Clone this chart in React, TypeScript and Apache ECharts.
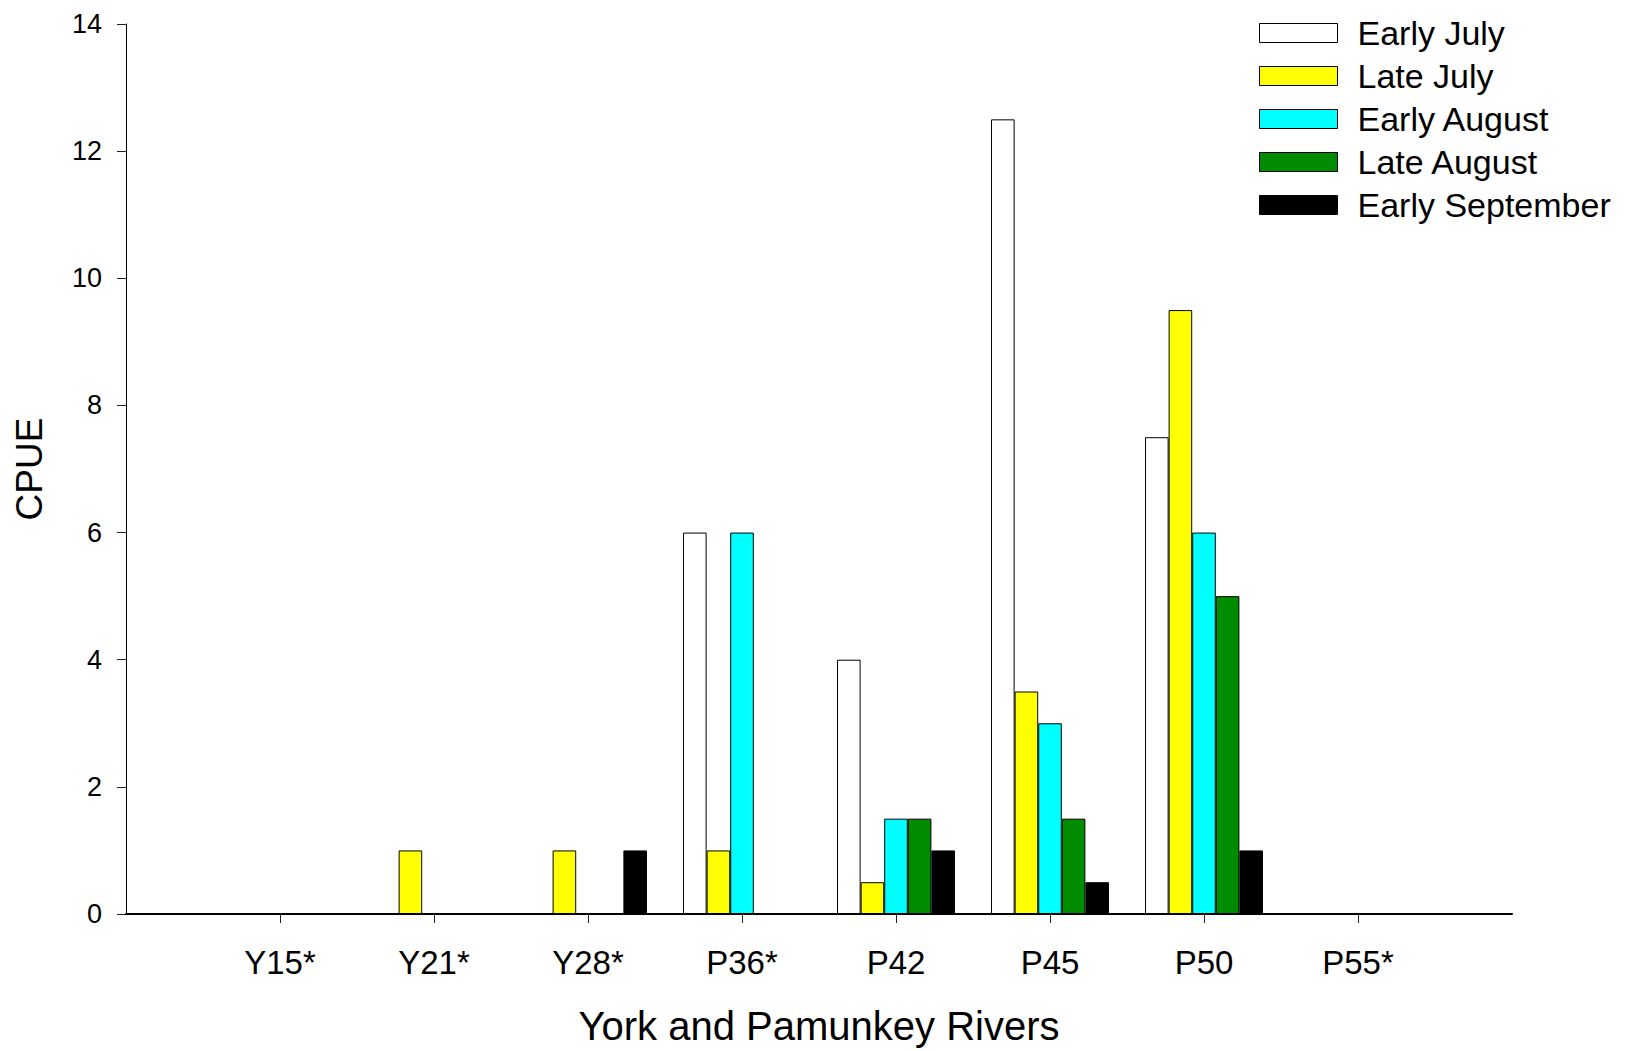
import React, { useEffect, useRef } from "react";
import * as echarts from "echarts";

// Sampling stations along the York and Pamunkey rivers
const stations = ["Y15*", "Y21*", "Y28*", "P36*", "P42", "P45", "P50", "P55*"];

// CPUE per station for each sampling period
const earlyJuly = [0, 0, 0, 6, 4, 12.5, 7.5, 0];
const lateJuly = [0, 1, 1, 1, 0.5, 3.5, 9.5, 0];
const earlyAugust = [0, 0, 0, 6, 1.5, 3, 6, 0];
const lateAugust = [0, 0, 0, 0, 1.5, 1.5, 5, 0];
const earlySeptember = [0, 0, 1, 0, 1, 0.5, 1, 0];

const periodNames = ["Early July", "Late July", "Early August", "Late August", "Early September"];
const periodValues = [earlyJuly, lateJuly, earlyAugust, lateAugust, earlySeptember];
const periodColors = ["#ffffff", "#ffff00", "#00ffff", "#008c00", "#000000"];

const yTicks = { min: 0, max: 14, interval: 2 };

const FONT = "'Liberation Sans', Arial, sans-serif";

export default function App() {
  const ref = useRef<HTMLDivElement>(null);

  useEffect(() => {
    if (!ref.current) return;
    const chart = echarts.init(ref.current, null, { renderer: "svg" });

    // Pad the axis with an empty slot at each end so the stations sit on ticks 1..8
    const axisCats = ["", ...stations, ""];

    const series = periodNames.map((name, i) => ({
      name,
      type: "bar" as const,
      data: [null, ...periodValues[i], null],
      barGap: "0%",
      barCategoryGap: "23.4%",
      itemStyle: {
        color: periodColors[i],
        borderColor: "#000000",
        borderWidth: 1,
      },
      emphasis: { disabled: true },
    }));

    chart.setOption({
      animation: false,
      backgroundColor: "#ffffff",
      textStyle: { fontFamily: FONT },
      grid: { left: 126, right: 113, top: 24, bottom: 136, containLabel: false },
      legend: {
        orient: "vertical",
        left: 1259,
        top: 16,
        padding: 0,
        icon: "rect",
        itemWidth: 78,
        itemHeight: 19,
        itemGap: 9,
        selectedMode: false,
        itemStyle: { borderColor: "#000000", borderWidth: 1 },
        textStyle: {
          fontFamily: FONT,
          fontSize: 34,
          lineHeight: 34,
          color: "#000000",
          padding: [0, 0, 0, 15],
        },
        data: periodNames,
      },
      xAxis: {
        type: "category",
        data: axisCats,
        boundaryGap: false,
        name: "York and Pamunkey Rivers",
        nameLocation: "middle",
        nameGap: 92,
        nameTextStyle: { fontFamily: FONT, fontSize: 40, color: "#000000" },
        axisLine: { lineStyle: { color: "#000000", width: 2 } },
        axisTick: {
          length: 9,
          interval: (index: number) => index > 0 && index < axisCats.length - 1,
          lineStyle: { color: "#222222", width: 1 },
        },
        axisLabel: {
          interval: 0,
          margin: 32,
          fontFamily: FONT,
          fontSize: 33,
          color: "#000000",
        },
        splitLine: { show: false },
      },
      yAxis: {
        type: "value",
        min: yTicks.min,
        max: yTicks.max,
        interval: yTicks.interval,
        name: "CPUE",
        nameLocation: "middle",
        nameGap: 78,
        nameTextStyle: { fontFamily: FONT, fontSize: 37, color: "#000000" },
        axisLine: { show: true, lineStyle: { color: "#000000", width: 1 } },
        axisTick: { show: true, length: 9, lineStyle: { color: "#222222", width: 1 } },
        axisLabel: { margin: 24, fontFamily: FONT, fontSize: 27, color: "#000000" },
        splitLine: { show: false },
      },
      series,
    });

    return () => chart.dispose();
  }, []);

  return (
    <div
      ref={ref}
      style={{ position: "absolute", left: 0, top: 0, width: 1625, height: 1051, background: "#fff" }}
    />
  );
}
